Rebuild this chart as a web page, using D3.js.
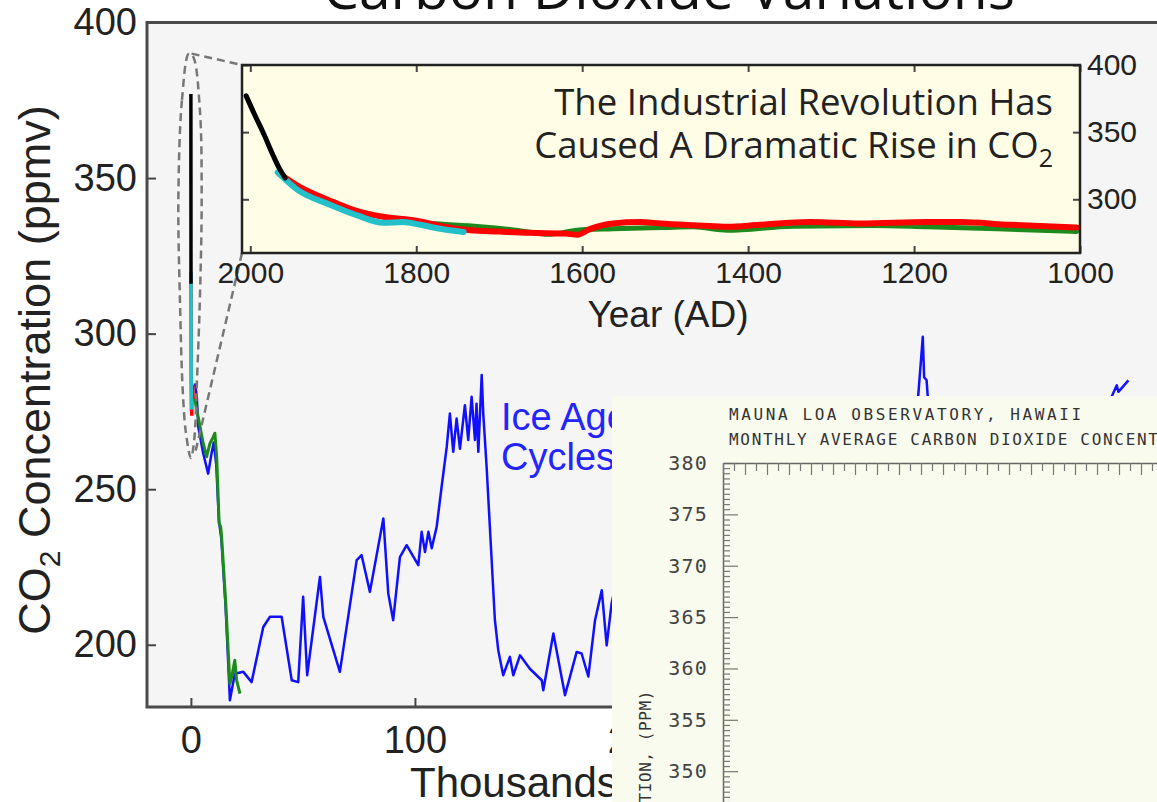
<!DOCTYPE html>
<html>
<head>
<meta charset="utf-8">
<script src="https://cdn.jsdelivr.net/npm/d3@7"></script>
<style>
  body { margin: 0; background: #fff; }
  svg { display: block; }
</style>
</head>
<body>
<script>
// Ice core record: [thousands of years ago, ppmv]
const iceBlue = [
  [1.8, 284], [2.6, 280], [3.3, 270], [5.5, 261.5], [7.7, 255], [9.2, 261.5], [10.2, 265], [11.3, 258],
  [12.5, 240], [13.6, 234], [15.5, 212], [16.6, 195], [17.4, 182.2], [19.6, 190.7], [23.4, 191.3],
  [27.1, 188], [32.3, 205.7], [35.3, 209], [40.5, 209], [45.0, 188.6], [47.9, 188], [50.1, 215.4],
  [51.9, 190.2], [57.6, 221.8], [59.1, 209], [66.5, 191.3], [74.0, 227.2], [76.2, 228.8], [79.9, 217],
  [85.9, 240.6], [88.1, 216.5], [90.3, 207.9], [93.3, 228.2], [96.3, 232], [101.5, 225.6], [103.0, 236.3],
  [104.5, 229.8], [106.0, 236.3], [107.5, 231], [109.7, 237.9], [111.9, 250.7], [114.2, 263.6],
  [115.6, 274.3], [117.1, 262], [118.6, 272.7], [120.1, 263], [122.3, 277], [123.8, 265.8], [125.3, 279.7],
  [126.8, 265.8], [127.5, 277.5], [128.3, 262], [129.8, 286.7], [130.5, 274.3], [132.0, 257.2],
  [135.7, 207.9], [137.2, 198.2], [139.4, 190.2], [142.4, 196.1], [143.9, 190.2], [146.9, 196.6],
  [151.3, 192.3], [156.6, 188.6], [157.3, 185.4], [161.8, 203.6], [167.0, 183.8], [172.2, 197.7],
  [174.4, 197.2], [177.4, 189.8], [180.4, 207.9], [183.4, 217.5], [185.6, 199.8], [187.8, 213.3],
  [192, 228], [197, 242], [202, 236], [207, 251], [213, 244], [219, 226], [225, 238], [231, 212],
  [237, 205], [242, 244], [247, 256], [252, 204], [257, 192], [262, 206], [268, 188], [278, 196],
  [289, 212], [299, 222], [306, 238], [312, 256], [318, 268], [322, 275], [324.6, 279.5], [326.7, 299],
  [327.3, 286], [328.4, 285], [329, 279], [333, 268], [337, 252], [342, 232], [347, 206], [353, 199],
  [359, 208], [366, 216], [372, 228], [378, 222], [385, 232], [392, 242], [399, 254], [405, 266],
  [409, 274], [411, 279.7], [413.3, 283.4], [414, 281.3], [418.5, 285],
]
const iceGreen = [
  [1.2, 279], [1.8, 278.6], [3.3, 273], [5.5, 264.7], [7.0, 260.4], [8.5, 264.7], [10.0, 266.8],
  [10.7, 268], [11.5, 260.4], [12.6, 239], [13.3, 237.9], [13.7, 234.7], [15.5, 214], [17.4, 187.5],
  [18.2, 189.6], [19.6, 195], [20.4, 188.6], [21.9, 184.3],
]

// Last millennium: [year AD, ppmv]
const recentBlack = [[2005, 377], [1994, 362], [1984, 349], [1972, 332], [1965, 323], [1958, 316]]
const recentCyan = [
  [1967, 320], [1943, 307], [1904, 296], [1871, 288], [1840, 282.5], [1816, 283], [1795, 281],
  [1771, 278], [1743, 275.6],
]
const recentRed = [
  [1965, 319], [1940, 309], [1900, 298], [1870, 291], [1840, 287], [1800, 284], [1770, 280],
  [1735, 277], [1700, 276], [1663, 275], [1620, 274.5], [1606, 273.6], [1590, 278], [1563, 282],
  [1530, 283], [1506, 282], [1458, 280.5], [1425, 279.5], [1386, 281], [1325, 283], [1265, 282],
  [1184, 283], [1145, 283], [1084, 281], [1004, 279],
]
const recentGreen = [
  [1799, 282.5], [1723, 279.5], [1680, 277], [1639, 274], [1606, 277], [1563, 278], [1500, 279],
  [1466, 279.5], [1425, 277], [1346, 280], [1250, 280.5], [1184, 279.5], [1100, 278], [1004, 276],
]

// zoom outline around the recent spike: [thousands of years ago, ppmv]
const zoomLoop = [
  [-0.9, 390], [-4.0, 375], [-5.6, 343], [-4.9, 311], [-3.6, 281], [-2.2, 268], [0, 260],
  [1.5, 266], [2.7, 285], [4.0, 311], [4.8, 343], [4.0, 372], [1.0, 389],
]

const mainXTicks = [0, 100, 200, 300, 400]
const mainYTicks = [200, 250, 300, 350, 400]
const insetXTicks = [2000, 1800, 1600, 1400, 1200, 1000]
const insetYTicks = [300, 350, 400]
const mloYTicks = [350, 355, 360, 365, 370, 375, 380]

const W = 1157
const H = 802
const sans = "'Liberation Sans', Arial, sans-serif"
const humanist = "'Open Sans', 'Noto Sans', sans-serif"
const mono = "'DejaVu Sans Mono', monospace"

const svg = d3.select('body').append('svg')
  .attr('xmlns', 'http://www.w3.org/2000/svg')
  .attr('width', W)
  .attr('height', H)
  .style('font-family', sans)

const defs = svg.append('defs')

// Main chart
const plot = { left: 147, top: 22.5, right: 1199, bottom: 707 }
const x = d3.scaleLinear().domain([-19.6, 450]).range([plot.left, plot.right])
const y = d3.scaleLinear().domain([180, 400]).range([plot.bottom, plot.top])
const line = d3.line().x(d => x(d[0])).y(d => y(d[1]))
const toKyr = d => [(2000 - d[0]) / 1000, d[1]]

defs.append('clipPath').attr('id', 'mainClip').append('rect')
  .attr('x', plot.left).attr('y', plot.top)
  .attr('width', plot.right - plot.left).attr('height', plot.bottom - plot.top)

svg.append('rect')
  .attr('x', plot.left).attr('y', plot.top)
  .attr('width', plot.right - plot.left).attr('height', plot.bottom - plot.top)
  .attr('fill', '#f5f5f5')

svg.append('text')
  .attr('x', 669).attr('y', 9)
  .attr('text-anchor', 'middle')
  .style('font-family', humanist)
  .attr('font-size', 57)
  .attr('fill', '#111')
  .text('Carbon Dioxide Variations')

const styleAxis = (g, size) => g
  .attr('font-family', null)
  .attr('font-size', size)
  .call(g => g.select('.domain').remove())
  .call(g => g.selectAll('.tick line').attr('stroke', '#444').attr('stroke-width', 2))
  .call(g => g.selectAll('.tick text').attr('fill', '#222'))

svg.append('g')
  .attr('transform', `translate(0,${plot.bottom})`)
  .call(d3.axisBottom(x).tickValues(mainXTicks).tickSize(-9).tickPadding(19))
  .call(g => styleAxis(g, 38))

svg.append('g')
  .attr('transform', `translate(${plot.left},0)`)
  .call(d3.axisLeft(y).tickValues(mainYTicks).tickSize(-9).tickPadding(10))
  .call(g => styleAxis(g, 38))

const lines = svg.append('g').attr('clip-path', 'url(#mainClip)').attr('fill', 'none')

lines.append('path').datum(iceBlue).attr('d', line)
  .attr('stroke', '#1010ff').attr('stroke-width', 2.5).attr('stroke-linejoin', 'round')
lines.append('path').datum(iceGreen).attr('d', line)
  .attr('stroke', '#1c8a1c').attr('stroke-width', 3).attr('stroke-linejoin', 'round')
lines.append('path').datum(recentRed.map(toKyr)).attr('d', line)
  .attr('stroke', '#ff0000').attr('stroke-width', 3.5)
lines.append('path').datum(recentCyan.map(toKyr)).attr('d', line)
  .attr('stroke', '#22c0c8').attr('stroke-width', 3.5)
lines.append('path').datum(recentBlack.map(toKyr)).attr('d', line)
  .attr('stroke', '#000').attr('stroke-width', 3.5)

// frame (right edge runs off the picture)
svg.append('path')
  .attr('d', `M${plot.right},${plot.top}H${plot.left}V${plot.bottom}H${plot.right}`)
  .attr('fill', 'none')
  .attr('stroke', '#4a4a4a')
  .attr('stroke-width', 3)

svg.append('text')
  .attr('transform', `translate(50,370) rotate(-90)`)
  .attr('text-anchor', 'middle')
  .attr('font-size', 45)
  .attr('fill', '#222')
  .call(t => t.append('tspan').text('CO'))
  .call(t => t.append('tspan').attr('dy', 10).attr('font-size', 30).text('2'))
  .call(t => t.append('tspan').attr('dy', -10).text(' Concentration (ppmv)'))

svg.append('text')
  .attr('x', 410).attr('y', 797)
  .attr('font-size', 42)
  .attr('fill', '#222')
  .text('Thousands of Years Ago')

const iceLabel = svg.append('text')
  .attr('font-size', 38)
  .attr('fill', '#2424ff')
iceLabel.append('tspan').attr('x', 501).attr('y', 430).text('Ice Age')
iceLabel.append('tspan').attr('x', 501).attr('y', 470).text('Cycles')

// Inset: last thousand years
const inset = { left: 242, top: 65, right: 1080, bottom: 253 }
const ix = d3.scaleLinear().domain([2010, 1000]).range([inset.left, inset.right])
const iy = d3.scaleLinear().domain([260, 400]).range([inset.bottom, inset.top])
const iline = d3.line().x(d => ix(d[0])).y(d => iy(d[1])).curve(d3.curveMonotoneX)

// dashed zoom outline
const dash = svg.append('g')
  .attr('fill', 'none')
  .attr('stroke', '#777')
  .attr('stroke-width', 2.5)
  .attr('stroke-dasharray', '8,5')

dash.append('path').datum(zoomLoop)
  .attr('d', d3.line().x(d => x(d[0])).y(d => y(d[1])).curve(d3.curveCatmullRomClosed))
dash.append('path')
  .attr('d', `M${x(0.3)},${y(390)}L${inset.left},${inset.top}`)
dash.append('path')
  .attr('d', `M${inset.left},${inset.bottom}L${x(2.0)},${y(262)}`)

defs.append('clipPath').attr('id', 'insetClip').append('rect')
  .attr('x', inset.left).attr('y', inset.top)
  .attr('width', inset.right - inset.left).attr('height', inset.bottom - inset.top)

svg.append('rect')
  .attr('x', inset.left).attr('y', inset.top)
  .attr('width', inset.right - inset.left).attr('height', inset.bottom - inset.top)
  .attr('fill', '#fffde6')

const insetText = svg.append('text')
  .attr('text-anchor', 'end')
  .style('font-family', humanist)
  .attr('font-size', 36.5)
  .attr('fill', '#222')
insetText.append('tspan').attr('x', 1053).attr('y', 115).text('The Industrial Revolution Has')
insetText.append('tspan').attr('x', 1053).attr('y', 158)
  .call(t => t.append('tspan').text('Caused A Dramatic Rise in CO'))
  .call(t => t.append('tspan').attr('dy', 9).attr('font-size', 25).text('2'))

const ilines = svg.append('g').attr('clip-path', 'url(#insetClip)').attr('fill', 'none')
  .attr('stroke-linecap', 'round')

ilines.append('path').datum(recentGreen).attr('d', iline)
  .attr('stroke', '#1c8a1c').attr('stroke-width', 5)
ilines.append('path').datum(recentRed).attr('d', iline)
  .attr('stroke', '#ff0000').attr('stroke-width', 6)
ilines.append('path').datum(recentCyan).attr('d', iline)
  .attr('stroke', '#22c0c8').attr('stroke-width', 6)
ilines.append('path').datum(recentBlack).attr('d', iline)
  .attr('stroke', '#000').attr('stroke-width', 5)

svg.append('g')
  .attr('transform', `translate(0,${inset.bottom})`)
  .call(d3.axisBottom(ix).tickValues(insetXTicks).tickSize(-7).tickPadding(9).tickFormat(d3.format('d')))
  .call(g => styleAxis(g, 30))

svg.append('g')
  .attr('transform', `translate(0,${inset.top})`)
  .call(d3.axisTop(ix).tickValues(insetXTicks).tickSize(-7).tickFormat(''))
  .call(g => styleAxis(g, 30))

svg.append('g')
  .attr('transform', `translate(${inset.left},0)`)
  .call(d3.axisLeft(iy).tickValues(insetYTicks).tickSize(-7).tickFormat(''))
  .call(g => styleAxis(g, 30))

svg.append('g')
  .attr('transform', `translate(${inset.right},0)`)
  .call(d3.axisRight(iy).tickValues(insetYTicks).tickSize(-7).tickPadding(7))
  .call(g => styleAxis(g, 30))

svg.append('rect')
  .attr('x', inset.left).attr('y', inset.top)
  .attr('width', inset.right - inset.left).attr('height', inset.bottom - inset.top)
  .attr('fill', 'none')
  .attr('stroke', '#222')
  .attr('stroke-width', 2.5)

svg.append('text')
  .attr('x', 668).attr('y', 327)
  .attr('text-anchor', 'middle')
  .attr('font-size', 37)
  .attr('fill', '#222')
  .text('Year (AD)')

// Mauna Loa panel pasted over the lower right
const mlo = svg.append('g')
mlo.append('rect')
  .attr('x', 612).attr('y', 396)
  .attr('width', W - 612).attr('height', H - 396)
  .attr('fill', '#f9fbee')

const mx = d3.scaleLinear().domain([1958, 2008]).range([723, 1273])
const my = d3.scaleLinear().domain([347, 380]).range([802, 463])

mlo.append('g')
  .attr('transform', `translate(${mx.range()[0]},0)`)
  .call(d3.axisLeft(my).tickValues(d3.range(347, 380.5, 0.5)).tickSize(-7).tickSizeOuter(0)
    .tickFormat(d => (mloYTicks.includes(d) ? d : '')).tickPadding(15))
  .attr('font-family', null)
  .attr('font-size', 20)
  .call(g => g.select('.domain').attr('stroke', '#666').attr('stroke-width', 1.5))
  .call(g => g.selectAll('.tick line').attr('stroke', '#777').attr('stroke-width', 1.2)
    .attr('x2', d => (mloYTicks.includes(d) ? 15 : 7)))
  .call(g => g.selectAll('.tick text').attr('fill', '#444').style('font-family', mono)
    .attr('letter-spacing', 1.2))

mlo.append('g')
  .attr('transform', `translate(0,${my(380)})`)
  .call(d3.axisTop(mx).tickValues(d3.range(1958, 2009)).tickSize(-10).tickSizeOuter(0).tickFormat(''))
  .call(g => g.select('.domain').attr('stroke', '#666').attr('stroke-width', 1.5))
  .call(g => g.selectAll('.tick line').attr('stroke', '#777').attr('stroke-width', 1.2)
    .attr('y2', d => (d % 2 === 0 ? 12 : 8)))

const mloText = mlo.append('text')
  .style('font-family', mono)
  .attr('font-size', 16)
  .attr('fill', '#333')
mloText.append('tspan').attr('x', 729).attr('y', 420).attr('letter-spacing', 2.6)
  .text('MAUNA LOA OBSERVATORY, HAWAII')
mloText.append('tspan').attr('x', 729).attr('y', 445).attr('letter-spacing', 1.7)
  .text('MONTHLY AVERAGE CARBON DIOXIDE CONCENTRATION')

mlo.append('text')
  .attr('transform', 'translate(651,690) rotate(-90)')
  .attr('text-anchor', 'end')
  .style('font-family', mono)
  .attr('font-size', 16)
  .attr('letter-spacing', 0.6)
  .attr('fill', '#333')
  .text('CO2 CONCENTRATION, (PPM)')
</script>
</body>
</html>
